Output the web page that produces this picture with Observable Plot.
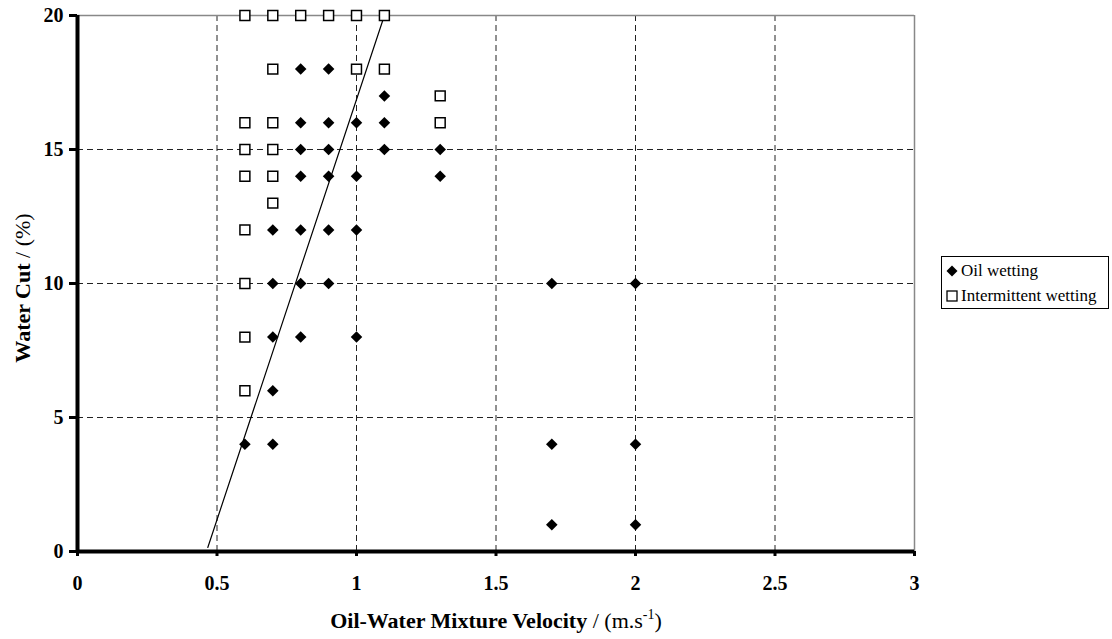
<!DOCTYPE html>
<html>
<head>
<meta charset="utf-8">
<script src="https://cdn.jsdelivr.net/npm/d3@7"></script>
<script src="https://cdn.jsdelivr.net/npm/@observablehq/plot@0.6"></script>
<style>
  html, body { margin: 0; padding: 0; background: white; }
  #wrap { position: relative; width: 1112px; height: 639px; font-family: "Liberation Serif", "Times New Roman", serif; }
  #wrap svg text { font-family: "Liberation Serif", "Times New Roman", serif !important; }
  #wrap svg g[aria-label="x-axis tick label"] text,
  #wrap svg g[aria-label="y-axis tick label"] text { font-size: 20px !important; font-weight: bold !important; }
  #legend { position: absolute; left: 941px; top: 256px; width: 168px; height: 53px; border: 1px solid black; background: white; font-size: 17px; box-sizing: border-box; padding-left: 3px; padding-top: 1px; }
  #legend .row { display: flex; align-items: center; height: 25px; }
  #legend svg { margin-right: 2px; }
</style>
</head>
<body>
<div id="wrap"></div>
<script>
// ---- data ----
const oilX = [0.8, 0.9, 1.1, 0.8, 0.9, 1.0, 1.1, 0.8, 0.9, 1.1, 1.3, 0.8, 0.9, 1.0, 1.3, 0.7, 0.8, 0.9, 1.0, 0.7, 0.8, 0.9, 1.7, 2.0, 0.7, 0.8, 1.0, 0.7, 0.6, 0.7, 1.7, 2.0, 1.7, 2.0];
const oilY = [18, 18, 17, 16, 16, 16, 16, 15, 15, 15, 15, 14, 14, 14, 14, 12, 12, 12, 12, 10, 10, 10, 10, 10, 8, 8, 8, 6, 4, 4, 4, 4, 1, 1];
const intX = [0.6, 0.7, 0.8, 0.9, 1.0, 1.1, 0.7, 1.0, 1.1, 1.3, 1.3, 0.6, 0.7, 0.6, 0.7, 0.6, 0.7, 0.7, 0.6, 0.6, 0.6, 0.6];
const intY = [20, 20, 20, 20, 20, 20, 18, 18, 18, 17, 16, 16, 16, 15, 15, 14, 14, 13, 12, 10, 8, 6];
const lineX = [0.467, 1.1];
const lineY = [0.15, 20];
const xTicks = [0, 0.5, 1, 1.5, 2, 2.5, 3];
const yTicks = [0, 5, 10, 15, 20];
const seriesNames = ["Oil wetting", "Intermittent wetting"];

const oil = oilX.map((x, i) => ({x, y: oilY[i]}));
const inter = intX.map((x, i) => ({x, y: intY[i]}));
const fitLine = lineX.map((x, i) => ({x, y: lineY[i]}));

const chart = Plot.plot({
  width: 1112,
  height: 639,
  marginLeft: 77,
  marginRight: 198,
  marginTop: 15,
  marginBottom: 88,
  x: {domain: [0, 3]},
  y: {domain: [0, 20]},
  style: {fontFamily: "'Liberation Serif', 'Times New Roman', serif", fontSize: "20px", color: "black", background: "white"},
  marks: [
    Plot.gridX(xTicks.filter(d => d > 0 && d < 3), {stroke: "#222", strokeOpacity: 1, strokeDasharray: "6,4", strokeWidth: 1}),
    Plot.gridY(yTicks.filter(d => d > 0 && d < 20), {stroke: "#222", strokeOpacity: 1, strokeDasharray: "6,4", strokeWidth: 1}),
    Plot.ruleY([20], {stroke: "#888", strokeWidth: 1.5}),
    Plot.ruleX([3], {stroke: "#888", strokeWidth: 1.5}),
    Plot.line(fitLine, {x: "x", y: "y", stroke: "black", strokeWidth: 1.2}),
    Plot.dot(inter, {x: "x", y: "y", symbol: "square", r: 5.6, fill: "white", stroke: "black", strokeWidth: 1.5}),
    Plot.dot(oil, {x: "x", y: "y", symbol: "diamond2", r: 5.2, fill: "black", stroke: "none"}),
    Plot.axisX({ticks: xTicks, tickFormat: d => String(d), fontWeight: "bold", fontSize: 20, tickSize: 5, tickPadding: 19, strokeWidth: 3, label: null}),
    Plot.axisY({ticks: yTicks, tickFormat: d => String(d), fontWeight: "bold", fontSize: 20, tickSize: 8, tickPadding: 6, strokeWidth: 3, label: null}),
    Plot.ruleX([0], {stroke: "black", strokeWidth: 4}),
    Plot.ruleY([0], {stroke: "black", strokeWidth: 4})
  ]
});

document.getElementById("wrap").appendChild(chart);

// axis titles with mixed weights
const svg = d3.select(chart);
const xt = svg.append("text")
  .attr("x", 496).attr("y", 628)
  .attr("text-anchor", "middle")
  .style("font-size", "22px").attr("fill", "black");
xt.append("tspan").attr("font-weight", "bold").text("Oil-Water Mixture Velocity");
xt.append("tspan").text(" / (m.s");
xt.append("tspan").attr("font-size", "14px").attr("dy", -9).text("-1");
xt.append("tspan").attr("dy", 9).text(")");

const yt = svg.append("text")
  .attr("transform", "translate(30,288) rotate(-90)")
  .attr("text-anchor", "middle")
  .style("font-size", "22px").attr("fill", "black");
yt.append("tspan").attr("font-weight", "bold").text("Water Cut");
yt.append("tspan").text(" / (%)");

// legend
const legend = document.createElement("div");
legend.id = "legend";
const symSvg = [
  '<svg width="14" height="14" viewBox="-7 -7 14 14"><path d="M0,-5.5L5.5,0L0,5.5L-5.5,0Z" fill="black"/></svg>',
  '<svg width="14" height="14" viewBox="-7 -7 14 14"><rect x="-5" y="-5" width="10" height="10" fill="white" stroke="black" stroke-width="1.3"/></svg>'
];
seriesNames.forEach((name, i) => {
  const row = document.createElement("div");
  row.className = "row";
  row.innerHTML = symSvg[i] + "<span>" + name + "</span>";
  legend.appendChild(row);
});
document.getElementById("wrap").appendChild(legend);
</script>
</body>
</html>
